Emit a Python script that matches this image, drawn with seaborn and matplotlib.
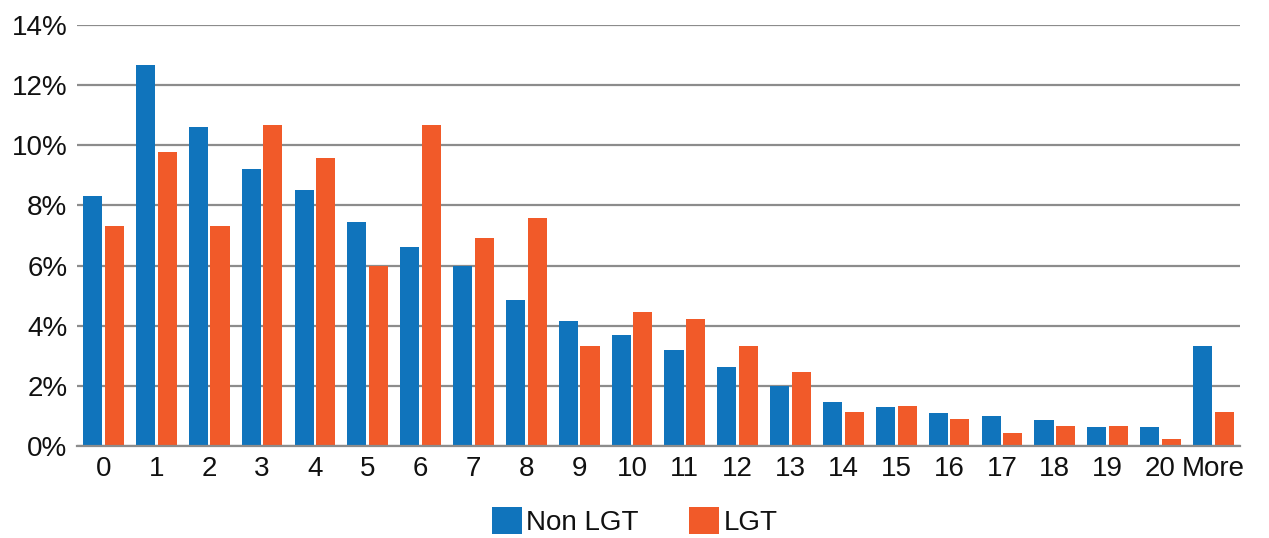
import matplotlib
matplotlib.use("Agg")
import matplotlib.pyplot as plt
import seaborn as sns
import pandas as pd
from matplotlib.ticker import FuncFormatter
from matplotlib import font_manager

categories = [str(i) for i in range(21)] + ["More"]
non_lgt = [8.32, 12.66, 10.62, 9.21, 8.50, 7.46, 6.63, 6.00, 4.86, 4.16, 3.69,
           3.18, 2.63, 1.98, 1.47, 1.31, 1.10, 0.99, 0.85, 0.64, 0.62, 3.34]
lgt = [7.33, 9.78, 7.33, 10.67, 9.57, 6.00, 10.67, 6.91, 7.58, 3.33, 4.47,
       4.23, 3.33, 2.46, 1.12, 1.33, 0.89, 0.44, 0.67, 0.67, 0.23, 1.12]
series_names = ["Non LGT", "LGT"]
colors = ["#1074BC", "#F15A29"]

df = pd.DataFrame({
    "cat": categories * 2,
    "val": non_lgt + lgt,
    "series": [series_names[0]] * len(categories) + [series_names[1]] * len(categories),
})

sns.set_theme(style="white")
names = {f.name for f in font_manager.fontManager.ttflist}
fam = "Liberation Sans Narrow" if "Liberation Sans Narrow" in names else "Liberation Sans"
plt.rcParams["font.family"] = [fam, "DejaVu Sans"]

fig = plt.figure(figsize=(12.69, 5.38), dpi=100)
ax = fig.add_axes([0.0607, 0.171, 0.977 - 0.0607, 0.9535 - 0.171])

sns.barplot(data=df, x="cat", y="val", hue="series", palette=colors,
            order=categories, hue_order=series_names, width=0.82, gap=0.12,
            linewidth=0, saturation=1, ax=ax)

ax.set_ylim(0, 14)
ax.set_xlim(-0.5, len(categories) - 0.5)
ax.set_yticks(range(0, 15, 2))
ax.yaxis.set_major_formatter(FuncFormatter(lambda v, p: f"{int(v)}%"))
ax.grid(axis="y", color="#8c8c8c", linewidth=1.6)
ax.set_axisbelow(True)
for s in ["top", "right", "left"]:
    ax.spines[s].set_visible(False)
ax.spines["bottom"].set_color("#8c8c8c")
ax.spines["bottom"].set_linewidth(1.6)
ax.set_xlabel("")
ax.set_ylabel("")
ax.tick_params(axis="both", length=0, labelsize=20, colors="#111111")
ax.tick_params(axis="x", pad=7)
ax.tick_params(axis="y", pad=7)

handles, labels = ax.get_legend_handles_labels()
ax.get_legend().remove()
fig.legend(handles, labels, loc="center", bbox_to_anchor=(0.5, 0.03), ncol=2,
           frameon=False, fontsize=20, handlelength=1.1, handleheight=1.1,
           columnspacing=1.8, handletextpad=0.15, labelcolor="#111111")

fig.savefig("out.png", dpi=100)
